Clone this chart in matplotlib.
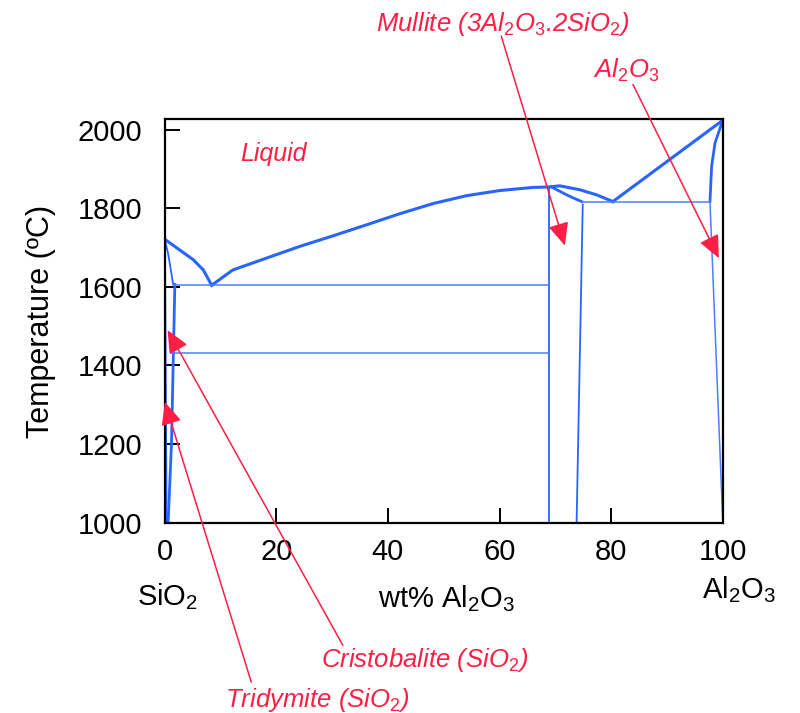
import numpy as np
import matplotlib
matplotlib.use("Agg")
import matplotlib.pyplot as plt

plt.rcParams['font.family'] = ['Liberation Sans', 'DejaVu Sans']
plt.rcParams['mathtext.fontset'] = 'custom'
plt.rcParams['mathtext.rm'] = 'Liberation Sans'
plt.rcParams['mathtext.it'] = 'Liberation Sans:italic'

# --- phase boundaries (wt% Al2O3, deg C) ---
sio2_liq_x = [0, 5.1, 6.9, 8.4]
sio2_liq_T = [1721, 1669, 1643, 1604]

main_liq_x = [8.4, 12.2, 18.2, 24.2, 30.2, 36.2, 42.1, 48.1, 54.1, 60.0, 66.0, 68.7, 70.8, 74.4, 77.4, 80.3]
main_liq_T = [1604, 1643, 1673, 1703, 1730, 1758, 1786, 1812, 1832, 1845, 1853, 1854, 1857, 1847, 1834, 1817]

mullite_low_x = [69.3, 72.6, 74.7]
mullite_low_T = [1854, 1830, 1817]

al2o3_liq_x = [80.3, 100]
al2o3_liq_T = [1817, 2024]

al2o3_sol_x = [100, 98.6, 98.0, 97.7, 100]
al2o3_sol_T = [2024, 1966, 1907, 1817, 1000]

sio2_sol_x = [0, 0.6, 1.0, 1.5]
sio2_sol_T = [1721, 1684, 1650, 1606]
sio2_ss_x = [1.8, 1.2, 0.6]
sio2_ss_T = [1606, 1202, 1000]
sio2_edge_x = [0, 0.3]
sio2_edge_T = [1721, 1000]

mull_left_x = [68.8, 68.8]
mull_left_T = [1854, 1000]
mull_right_x = [74.9, 73.8]
mull_right_T = [1809, 1000]

# isotherms: (T, x start, x end)
isotherms = [(1604, 1.8, 68.8), (1432, 1.2, 68.8), (1817, 74.7, 97.7)]

# labels with arrows: text, text pos, arrow tail, arrow tip, ha
arrow_labels = [
    (r"Mullite (3Al$_\mathit{2}$O$_\mathit{3}$.2SiO$_\mathit{2}$)", (60.5, 2250), (60.3, 2238), (71.7, 1705), 'center'),
    (r"Al$_\mathit{2}$O$_\mathit{3}$", (82.7, 2132), (83.9, 2115), (99.3, 1673), 'center'),
    (r"Cristobalite (SiO$_\mathit{2}$)", (46.6, 633), (31.9, 688), (0.5, 1490), 'center'),
    (r"Tridymite (SiO$_\mathit{2}$)", (10.8, 530), (15.5, 594), (0.0, 1307), 'left'),
]

xticks = [0, 20, 40, 60, 80, 100]
yticks = [1000, 1200, 1400, 1600, 1800, 2000]

blue = '#2864ff'
blue_thin = '#4a80ff'
red = '#ff1f45'

fig = plt.figure(figsize=(8, 7.13), dpi=100)
ax = fig.add_axes([0.206, 0.267, 0.6975, 0.5655])

ax.plot(sio2_liq_x, sio2_liq_T, color=blue, lw=2.2)
ax.plot(main_liq_x, main_liq_T, color=blue, lw=2.2)
ax.plot(mullite_low_x, mullite_low_T, color=blue, lw=2.0)
ax.plot(al2o3_liq_x, al2o3_liq_T, color=blue, lw=2.2)
ax.plot(al2o3_sol_x[:4], al2o3_sol_T[:4], color=blue, lw=2.0)
ax.plot(al2o3_sol_x[3:], al2o3_sol_T[3:], color=blue_thin, lw=1.1)
ax.plot(sio2_sol_x, sio2_sol_T, color=blue, lw=1.3)
ax.plot(sio2_ss_x, sio2_ss_T, color=blue, lw=2.0)
ax.plot(sio2_edge_x, sio2_edge_T, color=blue, lw=1.5)
ax.plot(mull_left_x, mull_left_T, color=blue, lw=1.3)
ax.plot(mull_right_x, mull_right_T, color=blue, lw=1.3)
for T, x0, x1 in isotherms:
    ax.plot([x0, x1], [T, T], color=blue_thin, lw=1.1)

ax.set_xlim(0, 100)
ax.set_ylim(1000, 2026)
ax.set_xticks(xticks)
ax.set_yticks(yticks)
ax.tick_params(direction='in', length=11, width=1.4, labelsize=21)
ax.tick_params(axis='y', pad=16)
ax.tick_params(axis='x', pad=11)
for s in ax.spines.values():
    s.set_linewidth(1.6)

ax.set_ylabel("Temperature (ºC)", fontsize=22, labelpad=16)

ax.text(0.5, 790, r"SiO$_2$", fontsize=21, ha='center', va='baseline')
ax.text(50.5, 786, r"wt% Al$_2$O$_3$", fontsize=21, ha='center', va='baseline')
ax.text(102.9, 808, r"Al$_2$O$_3$", fontsize=21, ha='center', va='baseline')

ax.text(19.4, 1919, "Liquid", fontsize=18, style='italic', color=red, ha='center', va='baseline')

for label, tpos, tail, tip, ha in arrow_labels:
    ax.annotate('', xy=tip, xytext=tail, annotation_clip=False,
                arrowprops=dict(arrowstyle='-|>,head_length=1.0,head_width=0.45',
                                mutation_scale=14, color=red, lw=1.1,
                                shrinkA=0, shrinkB=0))
    ax.text(tpos[0], tpos[1], label, fontsize=18.5, style='italic', color=red,
            ha=ha, va='baseline', clip_on=False)

fig.savefig('out.png', dpi=100)
